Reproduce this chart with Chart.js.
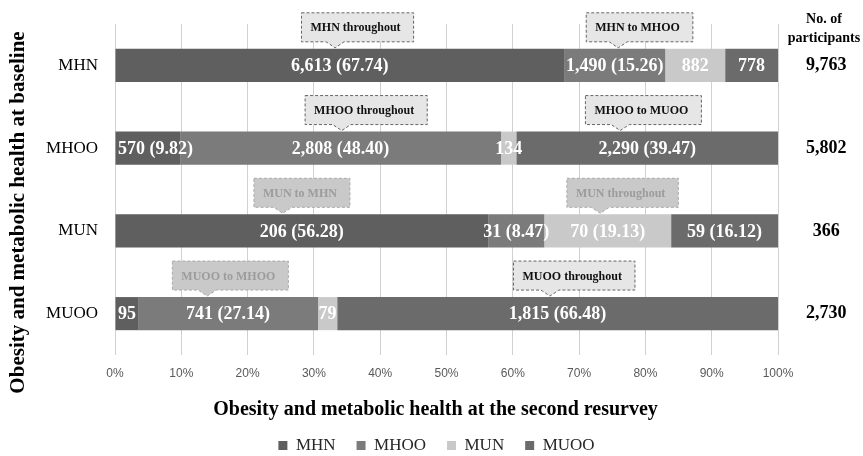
<!DOCTYPE html>
<html>
<head>
<meta charset="utf-8">
<script src="https://cdn.jsdelivr.net/npm/chart.js@4.4.1/dist/chart.umd.min.js"></script>
<style>
  html, body { margin: 0; padding: 0; background: #ffffff; }
  #wrap { width: 863px; height: 456px; }
</style>
</head>
<body>
<div id="wrap"><canvas id="chart" width="863" height="456"></canvas></div>
<script>
// Baseline groups (rows) and counts at the second resurvey (one array per outcome)
const baselineGroups = ['MHN', 'MHOO', 'MUN', 'MUOO'];
const seriesNames = ['MHN', 'MHOO', 'MUN', 'MUOO'];
const countMHN  = [6613,  570, 206,   95];
const countMHOO = [1490, 2808,  31,  741];
const countMUN  = [ 882,  134,  70,   79];
const countMUOO = [ 778, 2290,  59, 1815];

// Whether a segment label also shows its row percentage
const pctMHN  = [true,  true,  true, false];
const pctMHOO = [true,  true,  true, true];
const pctMUN  = [false, false, true, false];
const pctMUOO = [false, true,  true, true];

// Axis ticks (percent of participants in each baseline group)
const xTickValues = [0, 10, 20, 30, 40, 50, 60, 70, 80, 90, 100];

// Transition callouts: text, row and the x value (%) the pointer targets
const calloutText  = ['MHN throughout', 'MHN to MHOO', 'MHOO throughout', 'MHOO to MUOO',
                      'MUN to MHN', 'MUN throughout', 'MUOO to MHOO', 'MUOO throughout'];
const calloutRow   = [0, 0, 1, 1, 2, 2, 3, 3];
const calloutAt    = [33.2, 75.9, 34.2, 76.2, 25.3, 73.2, 13.9, 65.6];
const calloutMuted = [false, false, false, false, true, true, true, false];

const counts = [countMHN, countMHOO, countMUN, countMUOO];
const showPct = [pctMHN, pctMHOO, pctMUN, pctMUOO];
const totals = baselineGroups.map((_, r) => counts.reduce((s, c) => s + c[r], 0));
const fmt = n => n.toLocaleString('en-US');
const pct = (s, r) => counts[s][r] / totals[r] * 100;

const SERIF = '"Liberation Serif", "Times New Roman", serif';
const colors = ['#5f5f5f', '#7b7b7b', '#c9c9c9', '#6b6b6b'];
Chart.defaults.font.family = SERIF;

const datasets = seriesNames.map((name, s) => ({
  label: name,
  data: baselineGroups.map((_, r) => pct(s, r)),
  backgroundColor: colors[s],
  borderWidth: 0,
  barPercentage: 0.8,
  categoryPercentage: 0.5
}));

// Category axes on the left and right should not pad the plot area vertically
const noVerticalPadding = (s, width) => {
  s.width = width;
  s.paddingTop = 0;
  s.paddingBottom = 0;
};

const overlay = {
  id: 'overlay',
  afterLayout(chart) {
    // nudge the legend row slightly to the right
    if (chart.legend) {
      chart.legend.left += 5;
      chart.legend.right += 5;
    }
  },
  afterDatasetsDraw(chart) {
    const ctx = chart.ctx;
    const area = chart.chartArea;
    const xs = chart.scales.x;

    // Segment labels: count, plus "(percent)" where given
    ctx.save();
    ctx.font = 'bold 18px ' + SERIF;
    ctx.fillStyle = '#ffffff';
    ctx.textBaseline = 'middle';
    seriesNames.forEach((_, s) => {
      const meta = chart.getDatasetMeta(s);
      meta.data.forEach((el, r) => {
        let txt = fmt(counts[s][r]);
        if (showPct[s][r]) txt += ' (' + pct(s, r).toFixed(2) + ')';
        const w = ctx.measureText(txt).width;
        let cx = (el.x + el.base) / 2;
        if (cx - w / 2 < area.left + 3) cx = area.left + 3 + w / 2;
        if (cx + w / 2 > area.right - 3) cx = area.right - 3 - w / 2;
        ctx.textAlign = 'center';
        ctx.fillText(txt, cx, el.y + 1);
      });
    });
    ctx.restore();

    // Dashed callouts pointing at the bars
    ctx.save();
    ctx.font = 'bold 12px ' + SERIF;
    calloutText.forEach((txt, i) => {
      const el = chart.getDatasetMeta(0).data[calloutRow[i]];
      const barTop = el.y - el.height / 2;
      const tipX = xs.getPixelForValue(calloutAt[i]);
      const tw = ctx.measureText(txt).width;
      const w = tw + 22, h = 29;
      const bottom = barTop - 7, top = bottom - h;
      const left = tipX - 0.3 * w;
      const tipY = barTop - 1;
      ctx.beginPath();
      ctx.moveTo(left, top);
      ctx.lineTo(left + w, top);
      ctx.lineTo(left + w, bottom);
      ctx.lineTo(tipX + 9, bottom);
      ctx.lineTo(tipX, tipY);
      ctx.lineTo(tipX - 9, bottom);
      ctx.lineTo(left, bottom);
      ctx.closePath();
      const muted = calloutMuted[i];
      ctx.fillStyle = muted ? '#c9c9c9' : '#e6e6e6';
      ctx.fill();
      ctx.setLineDash([3, 2]);
      ctx.lineWidth = 1;
      ctx.strokeStyle = muted ? '#aaaaaa' : '#666666';
      ctx.stroke();
      ctx.setLineDash([]);
      ctx.fillStyle = muted ? '#9c9c9c' : '#111111';
      ctx.textAlign = 'center';
      ctx.textBaseline = 'middle';
      ctx.fillText(txt, left + w / 2 - 2, (top + bottom) / 2 + 1);
    });
    ctx.restore();

    // Header over the participant totals, and the two axis titles
    ctx.save();
    ctx.fillStyle = '#000000';
    ctx.textAlign = 'center';
    ctx.textBaseline = 'middle';
    const hx = area.right + 46;
    ctx.font = 'bold 14px ' + SERIF;
    ctx.fillText('No. of', hx, area.top - 5);
    ctx.fillText('participants', hx, area.top + 14);

    ctx.font = 'bold 20px ' + SERIF;
    ctx.fillText('Obesity and metabolic health at the second resurvey',
                 (area.left + area.right) / 2 - 11, area.bottom + 55);

    ctx.translate(chart.scales.y.left + 19, (area.top + area.bottom) / 2 + 23);
    ctx.rotate(-Math.PI / 2);
    ctx.font = 'bold 21px ' + SERIF;
    ctx.fillText('Obesity and metabolic health at baseline', 0, 0);
    ctx.restore();
  }
};

new Chart(document.getElementById('chart'), {
  type: 'bar',
  data: { labels: baselineGroups, datasets },
  plugins: [overlay],
  options: {
    indexAxis: 'y',
    responsive: false,
    animation: false,
    layout: { padding: { top: 24, right: 0, bottom: -8, left: 0 } },
    plugins: {
      tooltip: { enabled: false },
      legend: {
        position: 'bottom',
        labels: {
          boxWidth: 9,
          boxHeight: 9,
          padding: 21,
          color: '#262626',
          font: { family: SERIF, size: 17 }
        }
      }
    },
    scales: {
      x: {
        stacked: true,
        min: 0,
        max: 100,
        afterBuildTicks: s => { s.ticks = xTickValues.map(v => ({ value: v })); },
        ticks: {
          callback: v => v + '%',
          color: '#595959',
          font: { family: '"Liberation Sans", Arial, sans-serif', size: 12 },
          padding: 11,
          maxRotation: 0
        },
        grid: { color: '#d0d0d0', drawTicks: false },
        border: { display: false },
        afterFit: s => { s.height = 61; }
      },
      y: {
        stacked: true,
        grid: { display: false, drawTicks: false },
        border: { display: false },
        ticks: { color: '#000000', font: { family: SERIF, size: 17 }, padding: 17 },
        afterFit: s => noVerticalPadding(s, 115)
      },
      y2: {
        type: 'category',
        position: 'right',
        labels: totals.map(fmt),
        offset: true,
        grid: { display: false, drawTicks: false },
        border: { display: false },
        ticks: {
          crossAlign: 'center',
          color: '#000000',
          font: { family: SERIF, size: 18, weight: 'bold' },
          padding: 28
        },
        afterFit: s => noVerticalPadding(s, 85)
      }
    }
  }
});
</script>
</body>
</html>
